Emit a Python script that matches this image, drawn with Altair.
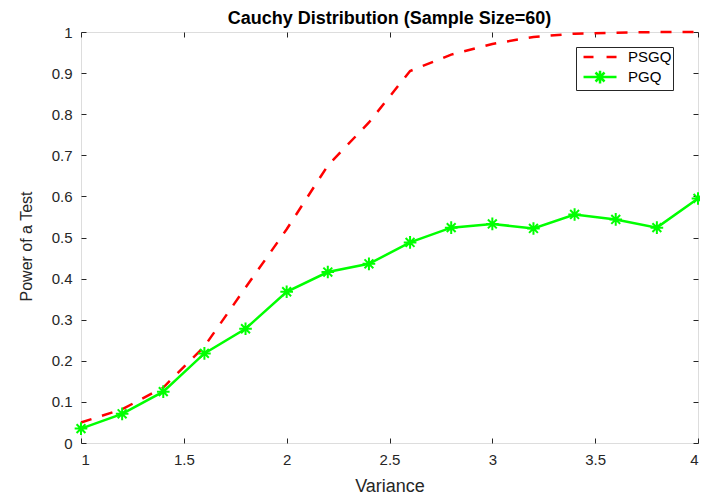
import altair as alt
import pandas as pd

# ---- data ----
variance = [1.0, 1.2, 1.4, 1.6, 1.8, 2.0, 2.2, 2.4, 2.6, 2.8, 3.0, 3.2, 3.4, 3.6, 3.8, 4.0]
psgq = [0.050, 0.082, 0.135, 0.235, 0.378, 0.520, 0.675, 0.780, 0.905, 0.945,
        0.971, 0.988, 0.996, 0.998, 1.000, 1.000]
pgq = [0.035, 0.071, 0.125, 0.218, 0.278, 0.368, 0.416, 0.436, 0.488, 0.524,
       0.533, 0.522, 0.556, 0.544, 0.524, 0.595]
series_names = ["PSGQ", "PGQ"]
series_colors = ["#ff0000", "#00ff00"]
x_ticks = [1, 1.5, 2, 2.5, 3, 3.5, 4]
y_ticks = [0, 0.1, 0.2, 0.3, 0.4, 0.5, 0.6, 0.7, 0.8, 0.9, 1]

df = pd.DataFrame({"Variance": variance, "PSGQ": psgq, "PGQ": pgq})
long = df.melt("Variance", var_name="series", value_name="power")

AX = "#262626"
FONT = "Liberation Sans"

STAR = "M-1,0H1M0,-1V1M-0.7,-0.7L0.7,0.7M-0.7,0.7L0.7,-0.7"
LEG_DASH = "M-0.33,0H1M2.74,0H4.07"
LEG_STAR = ("M-0.33,0H4.07M1.02,0H2.72M1.87,-0.85V0.85"
            "M1.27,-0.6L2.47,0.6M1.27,0.6L2.47,-0.6")

xs = alt.Scale(domain=[1, 4], nice=False, zero=False)
ys = alt.Scale(domain=[0, 1], nice=False, zero=False)


def x_axis(orient, labels):
    kw = dict(orient=orient, values=x_ticks, labels=labels, format="~g",
              domain=False, ticks=True, tickSize=5, offset=-5, tickColor=AX,
              tickWidth=1, grid=False, labelColor=AX, labelFont=FONT,
              labelFontSize=15, labelPadding=9)
    if labels:
        kw.update(title="Variance", titleFont=FONT, titleFontSize=18,
                  titleFontWeight="normal", titleColor=AX, titlePadding=10)
    else:
        kw.update(title=None)
    return alt.Axis(**kw)


def y_axis(orient, labels):
    kw = dict(orient=orient, values=y_ticks, labels=labels, format="~g",
              domain=False, ticks=True, tickSize=5, offset=-5, tickColor=AX,
              tickWidth=1, grid=False, labelColor=AX, labelFont=FONT,
              labelFontSize=15, labelPadding=9)
    if labels:
        kw.update(title="Power of a Test", titleFont=FONT, titleFontSize=16,
                  titleFontWeight="normal", titleColor=AX, titlePadding=17,
                  titleY=214)
    else:
        kw.update(title=None)
    return alt.Axis(**kw)


base = alt.Chart(long)

red = base.transform_filter(alt.datum.series == "PSGQ").mark_line(
    color="#ff0000", strokeWidth=2.5, strokeDash=[11, 11]
).encode(
    x=alt.X("Variance:Q", scale=xs, axis=x_axis("bottom", True)),
    y=alt.Y("power:Q", scale=ys, axis=y_axis("left", True)),
)

green_line = base.transform_filter(alt.datum.series == "PGQ").mark_line(
    color="#00ff00", strokeWidth=2.5
).encode(
    x=alt.X("Variance:Q", scale=xs, axis=x_axis("top", False)),
    y=alt.Y("power:Q", scale=ys, axis=y_axis("right", False)),
)

green_pts = base.transform_filter(alt.datum.series == "PGQ").mark_point(
    shape=STAR, size=160, color="#00ff00", filled=False, strokeWidth=2, opacity=1
).encode(
    x=alt.X("Variance:Q", scale=xs, axis=None),
    y=alt.Y("power:Q", scale=ys, axis=None),
)

leg = alt.Legend(
    title=None, orient="none", legendX=495, legendY=15,
    strokeColor=AX, fillColor="white", padding=1, rowPadding=0,
    symbolSize=225, symbolStrokeWidth=2.5, labelFont=FONT, labelFontSize=15,
    labelColor="black", labelOffset=33, cornerRadius=0,
    direction="vertical",
)

legend_layer = base.transform_filter("false").mark_point(
    filled=False, strokeWidth=2.5, opacity=1
).encode(
    x=alt.X("Variance:Q", scale=xs, axis=None),
    y=alt.Y("power:Q", scale=ys, axis=None),
    color=alt.Color("series:N",
                    scale=alt.Scale(domain=series_names, range=series_colors),
                    legend=leg),
    shape=alt.Shape("series:N",
                    scale=alt.Scale(domain=series_names, range=[LEG_DASH, LEG_STAR]),
                    legend=leg),
)

chart = alt.layer(red, green_line, green_pts, legend_layer).resolve_axis(
    x="independent", y="independent"
).properties(
    width=617, height=411,
    title=alt.Title("Cauchy Distribution (Sample Size=60)", font=FONT,
                    fontSize=18, fontWeight="bold", color="black", offset=-3,
                    anchor="middle", frame="group"),
    padding={"left": 73, "top": 24, "right": 2, "bottom": 55},
    autosize="none",
).configure_view(stroke=AX, strokeWidth=1).configure(background="white")

chart.save("out.html", embed_options={"renderer": "svg", "actions": False})
